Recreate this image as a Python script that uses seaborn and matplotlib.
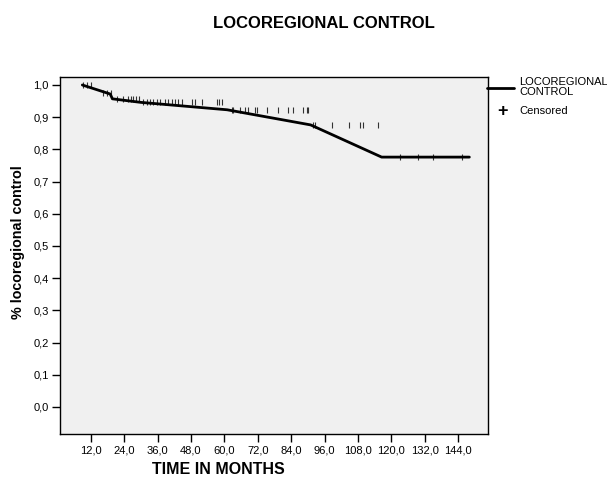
import matplotlib
matplotlib.use("Agg")
import matplotlib.pyplot as plt
from matplotlib.lines import Line2D
import seaborn as sns
import pandas as pd

# ---- data ----
event_months = [9.0, 19.0, 19.8, 30.0, 61.0, 91.0, 116.5, 148.0]
event_surv = [1.000, 0.972, 0.957, 0.946, 0.923, 0.876, 0.776, 0.776]

cens_months = [9.3, 10.8, 12.1,
               16.5, 18.0, 19.2,
               21.3, 23.5, 25.5, 26.4, 27.3, 28.3, 29.4,
               30.9, 32.1, 33.3, 34.5, 35.7, 36.9, 38.7, 39.9, 41.1, 42.3, 43.5, 44.9,
               48.3, 49.5, 52.0, 57.3, 58.2, 59.1,
               62.7, 63.2, 65.6, 67.4, 68.6, 71.0, 71.9, 75.2, 79.4, 83.0, 84.8, 88.4, 89.6, 90.2,
               92.0, 92.6, 98.6, 104.6, 108.8, 109.7, 115.3,
               123.0, 129.7, 135.1, 145.3]
cens_surv = [1.000] * 3 + [0.975] * 3 + [0.957] * 7 + [0.946] * 18 + [0.923] * 14 + \
            [0.876] * 7 + [0.776] * 4

x_ticks = [12, 24, 36, 48, 60, 72, 84, 96, 108, 120, 132, 144]
y_ticks = [0.0, 0.1, 0.2, 0.3, 0.4, 0.5, 0.6, 0.7, 0.8, 0.9, 1.0]

title = "LOCOREGIONAL CONTROL"
xlabel = "TIME IN MONTHS"
ylabel = "% locoregional control"

# ---- style ----
sns.set_style("white")
plt.rcParams['font.family'] = ['Liberation Sans', 'DejaVu Sans']
plt.rcParams['text.color'] = 'black'
plt.rcParams['xtick.color'] = 'black'
plt.rcParams['ytick.color'] = 'black'
plt.rcParams['xtick.labelcolor'] = 'black'
plt.rcParams['ytick.labelcolor'] = 'black'

W, H = 607, 479
fig = plt.figure(figsize=(W / 100, H / 100), dpi=100)
fig.patch.set_facecolor("white")
ax = fig.add_axes([60 / W, 1 - 434 / H, (488 - 60) / W, (434 - 77) / H])
ax.set_facecolor("#F0F0F0")

df_line = pd.DataFrame({"month": event_months, "surv": event_surv})
sns.lineplot(data=df_line, x="month", y="surv", ax=ax, color="black",
             linewidth=2.0, estimator=None, sort=False, zorder=3)

ax.plot(cens_months, cens_surv, ls="none", marker="|", markersize=4,
        markeredgewidth=0.8, color="#333333", zorder=2)

ax.set_xlim(0.98, 154.7)
ax.set_ylim(-0.084, 1.0248)
ax.set_xticks(x_ticks)
ax.set_xticklabels([f"{v:.1f}".replace(".", ",") for v in x_ticks], fontsize=8,
                   color="black")
ax.set_yticks(y_ticks)
ax.set_yticklabels([f"{v:.1f}".replace(".", ",") for v in y_ticks], fontsize=8,
                   color="black")
ax.tick_params(axis="both", direction="out", length=6, width=1, color="black",
               labelcolor="black", bottom=True, left=True, pad=2)
ax.set_xlabel("")
ax.set_ylabel("")
for s in ax.spines.values():
    s.set_color("black")
    s.set_linewidth(1.0)
    s.set_visible(True)

# titles / labels
fig.text(324 / W, 1 - 24 / H, title, ha="center", va="center",
         fontsize=12, fontweight="bold", color="black")
fig.text(218 / W, 1 - 469 / H, xlabel, ha="center", va="center",
         fontsize=11.5, fontweight="bold", color="black")
fig.text(18 / W, 1 - 242 / H, ylabel, ha="center", va="center",
         rotation=90, fontsize=10.3, fontweight="bold", color="black")

# legend (outside right)
fig.add_artist(Line2D([487 / W, 514 / W], [1 - 88.3 / H, 1 - 88.3 / H],
                      transform=fig.transFigure, color="black", linewidth=2.0))
fig.text(519 / W, 1 - 87 / H, "LOCOREGIONAL\nCONTROL", ha="left", va="center",
         fontsize=8, linespacing=0.95, color="black")
fig.text(503 / W, 1 - 111.5 / H, "+", ha="center", va="center",
         fontsize=13, fontweight="bold", color="black")
fig.text(519 / W, 1 - 111.5 / H, "Censored", ha="left", va="center", fontsize=8,
         color="black")

fig.savefig("out.png", dpi=100)
